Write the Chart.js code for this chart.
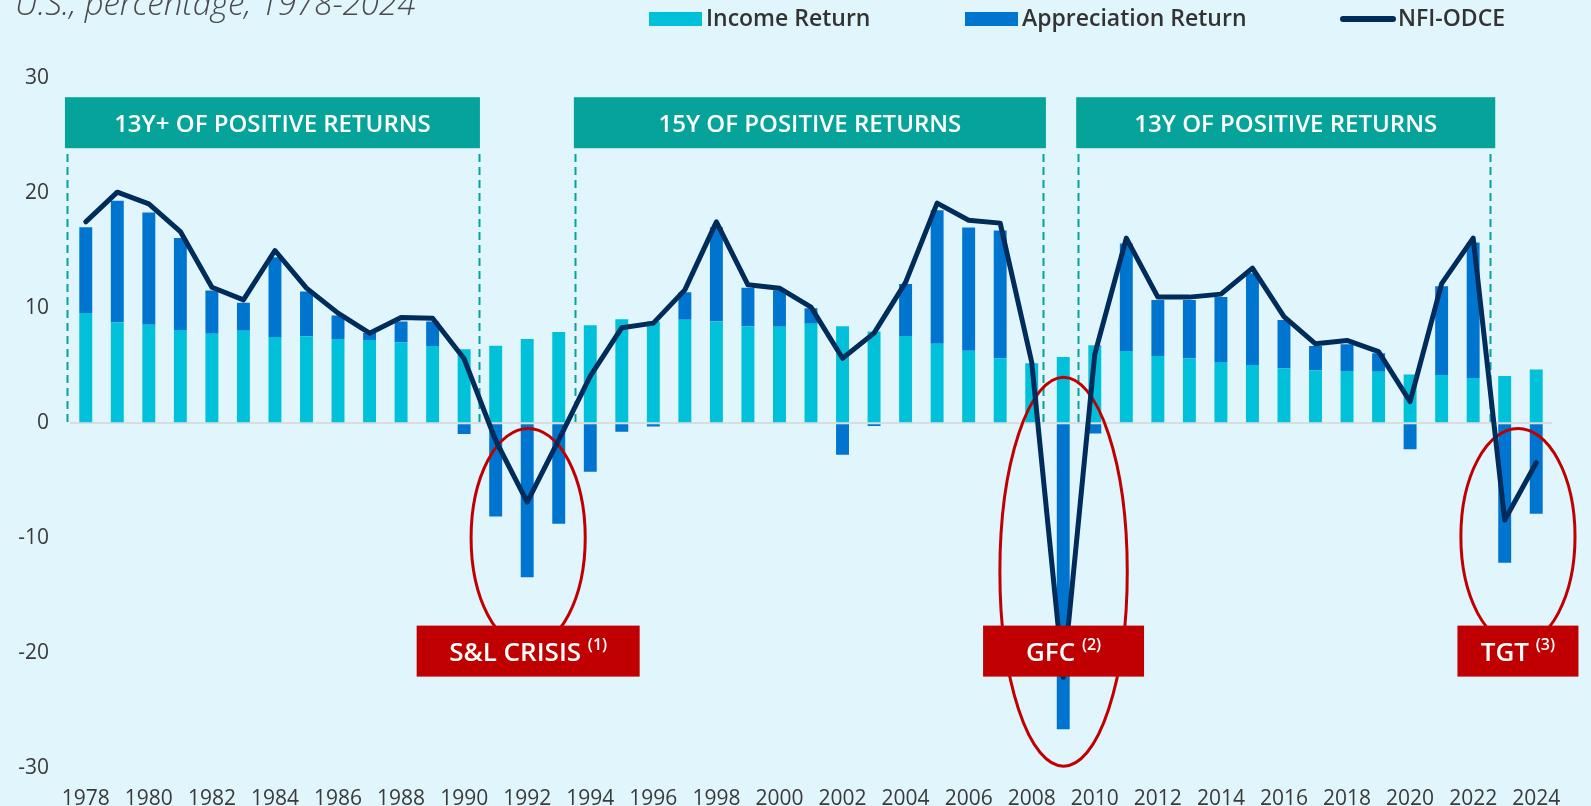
<!DOCTYPE html>
<html>
<head>
<meta charset="utf-8">
<script src="https://cdn.jsdelivr.net/npm/chart.js@4.4.1/dist/chart.umd.min.js"></script>
<style>
  html, body { margin: 0; padding: 0; background: #e1f5fc; }
  #wrap { position: relative; width: 1591px; height: 806px; }
</style>
</head>
<body>
<div id="wrap"><canvas id="odceChart" width="1591" height="806"></canvas></div>
<script>
// data
const years = ['1978','1979','1980','1981','1982','1983','1984','1985','1986','1987',
  '1988','1989','1990','1991','1992','1993','1994','1995','1996','1997',
  '1998','1999','2000','2001','2002','2003','2004','2005','2006','2007',
  '2008','2009','2010','2011','2012','2013','2014','2015','2016','2017',
  '2018','2019','2020','2021','2022','2023','2024'];

const incomeReturn = [9.57, 8.78, 8.55, 8.11, 7.77, 8.03, 7.50, 7.56, 7.33, 7.24,
  7.01, 6.72, 6.43, 6.74, 7.32, 7.93, 8.52, 9.04, 8.84, 9.00,
  8.84, 8.42, 8.39, 8.65, 8.42, 7.97, 7.59, 6.90, 6.29, 5.65,
  5.22, 5.75, 6.77, 6.27, 5.85, 5.62, 5.33, 5.07, 4.75, 4.61,
  4.55, 4.48, 4.23, 4.20, 3.93, 4.10, 4.68];

const appreciationReturn = [7.47, 10.55, 9.77, 7.98, 3.76, 2.43, 6.93, 3.89, 2.03, 0.60,
  1.83, 2.12, -0.93, -8.10, -13.38, -8.74, -4.22, -0.74, -0.29, 2.39,
  8.20, 3.35, 3.16, 1.35, -2.74, -0.23, 4.52, 11.60, 10.72, 11.10,
  0.00, -26.60, -0.89, 9.35, 4.87, 5.10, 5.63, 7.97, 4.23, 2.11,
  2.32, 1.61, -2.26, 7.70, 11.77, -12.13, -7.87];

const odceTotal = [17.50, 20.08, 19.07, 16.66, 11.82, 10.72, 15.01, 11.74, 9.57, 7.83,
  9.19, 9.13, 5.60, -1.50, -6.85, -1.45, 4.10, 8.30, 8.70, 11.59,
  17.50, 12.03, 11.74, 10.09, 5.65, 7.83, 12.24, 19.13, 17.64, 17.39,
  5.30, -22.10, 6.00, 16.09, 10.96, 10.96, 11.22, 13.48, 9.27, 6.90,
  7.20, 6.23, 1.88, 12.13, 16.09, -8.40, -3.43];

const yTicks = [-30, -20, -10, 0, 10, 20, 30];

// annotations, in category index / value units
const periodLabels = ['13Y+ OF POSITIVE RETURNS', '15Y OF POSITIVE RETURNS', '13Y OF POSITIVE RETURNS'];
const periodBoxFrom = [-0.66, 15.48, 31.41];
const periodBoxTo = [12.50, 30.45, 44.70];
const periodLineFrom = [-0.60, 15.52, 31.47];
const periodLineTo = [12.47, 30.36, 44.54];

const crisisLabels = ['S&L CRISIS', 'GFC', 'TGT'];
const crisisNotes = ['(1)', '(2)', '(3)'];
const crisisX = [14.03, 31.01, 45.42];
const crisisY = [-9.95, -12.9, -9.85];
const crisisRx = [1.81, 2.02, 1.81];
const crisisRy = [9.5, 16.9, 9.4];
const crisisBoxW = [223, 161, 121];

const COLORS = {
  income: '#00c1d9',
  appreciation: '#0075cf',
  line: '#002c5b',
  teal: '#05a39a',
  red: '#c00000',
  text: '#3a3a3a',
  zero: '#d7dde0'
};
const FONT = '"Open Sans", "Noto Sans", sans-serif';

const annotations = {
  id: 'annotations',
  beforeDatasetsDraw(chart) {
    const {ctx, scales: {x, y}} = chart;
    ctx.save();
    // dashed period lines
    ctx.strokeStyle = COLORS.teal;
    ctx.lineWidth = 2;
    ctx.setLineDash([8, 5]);
    const yTop = y.getPixelForValue(23.4);
    const yBot = y.getPixelForValue(-0.1);
    [...periodLineFrom, ...periodLineTo].forEach(v => {
      const px = Math.round(x.getPixelForValue(v)) + 0.5;
      ctx.beginPath();
      ctx.moveTo(px, yTop);
      ctx.lineTo(px, yBot);
      ctx.stroke();
    });
    ctx.setLineDash([]);
    // period boxes
    periodLabels.forEach((label, i) => {
      const x1 = x.getPixelForValue(periodBoxFrom[i]);
      const x2 = x.getPixelForValue(periodBoxTo[i]);
      const y1 = y.getPixelForValue(28.33);
      const y2 = y.getPixelForValue(23.9);
      ctx.fillStyle = COLORS.teal;
      ctx.fillRect(x1, y1, x2 - x1, y2 - y1);
      ctx.fillStyle = '#ffffff';
      ctx.font = '600 24px ' + FONT;
      ctx.textAlign = 'center';
      ctx.textBaseline = 'middle';
      ctx.fillText(label, (x1 + x2) / 2, (y1 + y2) / 2 + 2);
    });
    ctx.restore();
  },
  beforeDatasetDraw(chart, args) {
    if (args.index !== 2) return;
    const {ctx, scales: {x, y}} = chart;
    ctx.save();
    ctx.strokeStyle = COLORS.red;
    ctx.lineWidth = 3;
    crisisLabels.forEach((_, i) => {
      const cx = x.getPixelForValue(crisisX[i]);
      const cy = y.getPixelForValue(crisisY[i]);
      const rx = Math.abs(x.getPixelForValue(crisisX[i] + crisisRx[i]) - cx);
      const ry = Math.abs(y.getPixelForValue(crisisY[i] + crisisRy[i]) - cy);
      ctx.beginPath();
      ctx.ellipse(cx, cy, rx, ry, 0, 0, Math.PI * 2);
      ctx.stroke();
    });
    ctx.restore();
  },
  afterDatasetsDraw(chart) {
    const {ctx, scales: {x, y}} = chart;
    ctx.save();
    crisisLabels.forEach((label, i) => {
      const cx = x.getPixelForValue(crisisX[i]);
      const cy = y.getPixelForValue(-19.8);
      ctx.font = '600 26px ' + FONT;
      const w1 = ctx.measureText(label + ' ').width;
      ctx.font = '600 16px ' + FONT;
      const w2 = ctx.measureText(crisisNotes[i]).width;
      const w = crisisBoxW[i];
      const h = 51;
      ctx.fillStyle = COLORS.red;
      ctx.fillRect(cx - w / 2, cy - h / 2, w, h);
      ctx.fillStyle = '#ffffff';
      ctx.textAlign = 'left';
      ctx.textBaseline = 'alphabetic';
      const left = cx - (w1 + w2) / 2;
      ctx.font = '600 26px ' + FONT;
      ctx.fillText(label + ' ', left, cy + 10);
      ctx.font = '600 16px ' + FONT;
      ctx.fillText(crisisNotes[i], left + w1, cy - 1);
    });
    ctx.restore();
  },
  afterDraw(chart) {
    const {ctx} = chart;
    ctx.save();
    // subtitle (cut at top)
    ctx.font = 'italic 300 33px ' + FONT;
    ctx.fillStyle = '#4a4a4a';
    ctx.textAlign = 'left';
    ctx.textBaseline = 'alphabetic';
    ctx.fillText('U.S., percentage, 1978-2024', 15, 15);
    // legend
    ctx.font = '600 23px ' + FONT;
    ctx.textBaseline = 'middle';
    ctx.fillStyle = COLORS.income;
    ctx.fillRect(649, 12, 53, 14);
    ctx.fillStyle = COLORS.appreciation;
    ctx.fillRect(965, 12, 53, 14);
    ctx.strokeStyle = COLORS.line;
    ctx.lineWidth = 6;
    ctx.lineCap = 'round';
    ctx.beginPath();
    ctx.moveTo(1343, 19);
    ctx.lineTo(1393, 19);
    ctx.stroke();
    ctx.fillStyle = '#333333';
    ctx.fillText('Income Return', 706, 19);
    ctx.fillText('Appreciation Return', 1022, 19);
    ctx.fillText('NFI-ODCE', 1398, 19);
    ctx.restore();
  }
};

const config = {
  type: 'bar',
  data: {
    labels: years,
    datasets: [
      {
        label: 'Income Return',
        data: incomeReturn,
        backgroundColor: COLORS.income,
        stack: 'returns',
        order: 1,
        barPercentage: 0.41,
        categoryPercentage: 1
      },
      {
        label: 'Appreciation Return',
        data: appreciationReturn,
        backgroundColor: COLORS.appreciation,
        stack: 'returns',
        order: 1,
        barPercentage: 0.41,
        categoryPercentage: 1
      },
      {
        type: 'line',
        label: 'NFI-ODCE',
        data: odceTotal,
        borderColor: COLORS.line,
        borderWidth: 5,
        borderJoinStyle: 'round',
        borderCapStyle: 'round',
        pointRadius: 0,
        tension: 0,
        stack: 'odce',
        order: 0
      }
    ]
  },
  options: {
    responsive: false,
    animation: false,
    devicePixelRatio: 1,
    layout: { padding: { top: 78, right: 39, bottom: 0, left: 0 } },
    plugins: { legend: { display: false }, tooltip: { enabled: false } },
    scales: {
      x: {
        stacked: true,
        grid: { display: false },
        border: { display: false },
        ticks: {
          autoSkip: false,
          maxRotation: 0,
          minRotation: 0,
          padding: 10,
          color: COLORS.text,
          font: { family: FONT, size: 21 },
          callback: (val, idx) => (idx % 2 === 0 ? years[idx] : '')
        },
        afterFit: (scale) => { scale.height = 37.5; }
      },
      y: {
        stacked: true,
        min: -30,
        max: 30,
        afterBuildTicks: (scale) => { scale.ticks = yTicks.map(v => ({ value: v })); },
        grid: {
          drawTicks: false,
          lineWidth: 2,
          color: (c) => (c.tick && c.tick.value === 0 ? COLORS.zero : 'rgba(0,0,0,0)')
        },
        border: { display: false },
        ticks: {
          padding: 21,
          color: COLORS.text,
          font: { family: FONT, size: 21 }
        },
        afterFit: (scale) => { scale.width = 70; }
      }
    }
  },
  plugins: [annotations]
};

const odceChart = new Chart(document.getElementById('odceChart'), config);
</script>
</body>
</html>
